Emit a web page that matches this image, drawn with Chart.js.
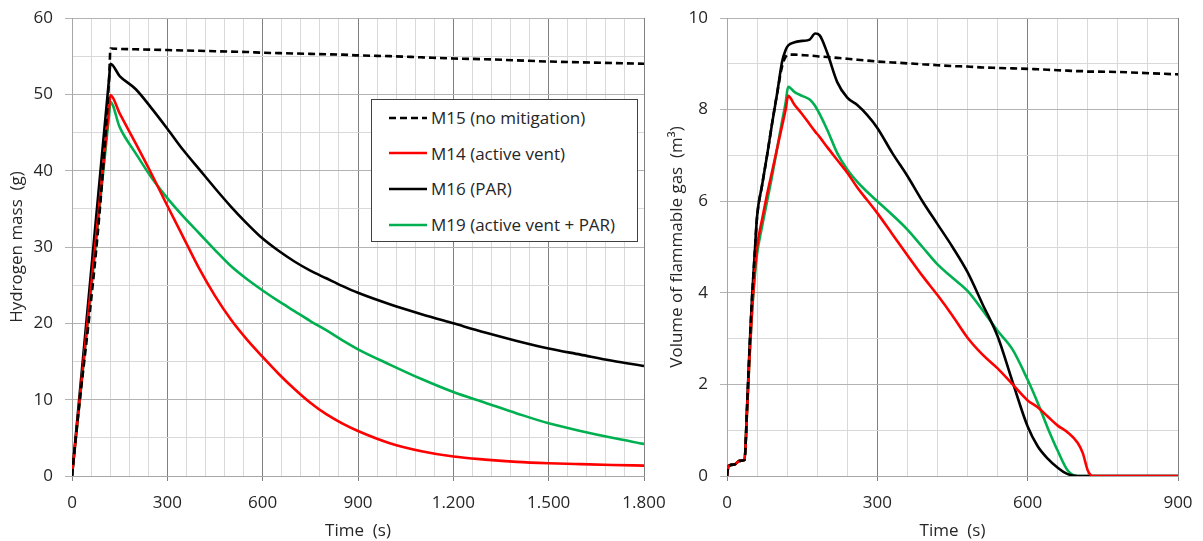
<!DOCTYPE html>
<html>
<head>
<meta charset="utf-8">
<script src="https://cdn.jsdelivr.net/npm/chart.js@4.4.1/dist/chart.umd.min.js"></script>
<style>
  html, body { margin: 0; padding: 0; background: #fff; }
  body { width: 1203px; height: 541px; position: relative; overflow: hidden; font-family: "Open Sans", sans-serif; }
  .panel { position: absolute; top: 0; height: 541px; }
  #leftBox { left: 0; width: 670px; }
  #rightBox { left: 660px; width: 543px; }
  #legend {
    position: absolute; left: 371px; top: 99px; width: 267px; height: 143px;
    border: 1px solid #404040; background: #fff; box-sizing: border-box;
  }
  .entry { height: 35.6px; display: flex; align-items: center; font-size: 17px; color: #262626; white-space: nowrap; }
  .entry svg { margin-left: 17px; margin-right: 4px; }
</style>
</head>
<body>
<div id="leftBox" class="panel"><canvas id="left"></canvas></div>
<div id="rightBox" class="panel"><canvas id="right"></canvas></div>
<div id="legend"></div>
<script>
// Left panel: hydrogen mass (g) vs time (s)
const tLeft = [0, 117, 121, 150, 200, 250, 300, 350, 400, 450, 500, 550, 600, 650, 700, 750, 800, 850, 900, 1000, 1100, 1200, 1300, 1400, 1500, 1600, 1700, 1800];
const m15Left = [0, 52.2, 56.0, 55.95, 55.9, 55.85, 55.8, 55.75, 55.7, 55.65, 55.6, 55.55, 55.45, 55.4, 55.35, 55.3, 55.25, 55.2, 55.1, 55.0, 54.85, 54.7, 54.6, 54.45, 54.3, 54.2, 54.1, 54.0];
const m14Left = [0, 48.3, 49.9, 47.5, 43.6, 39.6, 35.4, 31.3, 27.2, 23.6, 20.5, 17.9, 15.6, 13.4, 11.4, 9.6, 8.1, 6.9, 5.9, 4.3, 3.25, 2.55, 2.15, 1.85, 1.67, 1.55, 1.45, 1.36];
const m16Left = [0, 52.2, 54.0, 52.4, 50.7, 48.2, 45.5, 42.7, 40.2, 37.7, 35.3, 33.1, 31.1, 29.5, 28.1, 26.9, 25.9, 24.9, 24.0, 22.5, 21.2, 20.0, 18.8, 17.7, 16.7, 15.9, 15.1, 14.4];
const m19Left = [0, 47.4, 49.0, 45.7, 42.3, 39.1, 36.4, 34.0, 31.8, 29.6, 27.5, 25.8, 24.3, 22.9, 21.6, 20.3, 19.1, 17.8, 16.6, 14.6, 12.7, 11.0, 9.6, 8.2, 6.9, 5.9, 5.0, 4.2];

// Right panel: volume of flammable gas (m3) vs time (s)
const tRight = [0, 3, 15, 25, 35, 40, 45, 50, 55, 60, 70, 80, 90, 100, 110, 117, 122, 135, 150, 165, 176, 185, 200, 220, 240, 260, 280, 300, 330, 360, 390, 420, 450, 480, 510, 540, 570, 600, 620, 640, 660, 680, 700, 710, 720, 730, 900];
const m15Right = [0, 0.22, 0.25, 0.33, 0.35, 1.5, 2.8, 3.9, 4.8, 5.65, 6.35, 7.0, 7.7, 8.35, 8.95, 9.15, 9.2, 9.2, 9.19, 9.18, 9.17, 9.16, 9.15, 9.13, 9.11, 9.09, 9.07, 9.05, 9.03, 9.01, 8.99, 8.97, 8.95, 8.94, 8.92, 8.91, 8.9, 8.89, 8.88, 8.87, 8.86, 8.85, 8.84, 8.84, 8.83, 8.83, 8.77];
const m14Right = [0, 0.22, 0.25, 0.33, 0.35, 1.4, 2.6, 3.6, 4.4, 5.0, 5.6, 6.15, 6.65, 7.15, 7.65, 8.0, 8.3, 8.1, 7.9, 7.68, 7.52, 7.4, 7.18, 6.9, 6.62, 6.3, 6.02, 5.74, 5.28, 4.82, 4.37, 3.95, 3.5, 3.02, 2.65, 2.35, 2.0, 1.65, 1.5, 1.3, 1.1, 0.95, 0.72, 0.5, 0.12, 0, 0];
const m16Right = [0, 0.22, 0.25, 0.33, 0.35, 1.5, 2.8, 3.9, 4.8, 5.67, 6.35, 7.0, 7.7, 8.35, 9.05, 9.3, 9.4, 9.47, 9.5, 9.53, 9.66, 9.62, 9.24, 8.6, 8.26, 8.1, 7.88, 7.6, 7.05, 6.55, 6.0, 5.5, 5.0, 4.45, 3.75, 3.05, 2.05, 1.08, 0.65, 0.38, 0.18, 0.04, 0, 0, 0, 0, 0];
const m19Right = [0, 0.22, 0.25, 0.33, 0.35, 1.4, 2.6, 3.6, 4.3, 4.85, 5.45, 6.0, 6.55, 7.15, 7.75, 8.15, 8.5, 8.38, 8.3, 8.22, 8.08, 7.9, 7.56, 7.05, 6.69, 6.42, 6.2, 6.0, 5.7, 5.38, 5.0, 4.62, 4.33, 4.04, 3.62, 3.17, 2.76, 2.1, 1.6, 1.05, 0.55, 0.12, 0, 0, 0, 0, 0];

const seriesNames = ["M15 (no mitigation)", "M14 (active vent)", "M16 (PAR)", "M19 (active vent + PAR)"];
const seriesColors = ["#000000", "#ff0000", "#000000", "#00b050"];
const seriesDash = [[7, 4], [], [], []];

const FONT = "'Open Sans', sans-serif";
const GRID = { minor: "#d9d9d9", majorY: "#b3b3b3", majorX: "#808080", axis: "#a6a6a6", text: "#262626" };

// 1200 -> "1.200"
function fmtThousands(v) {
  return String(v).replace(/\B(?=(\d{3})+(?!\d))/g, ".");
}

function zip(t, v) {
  return t.map((x, i) => ({ x, y: v[i] }));
}

// Pin the axis box size and drop the label overhang padding, so the
// plot area is set by layout.padding alone.
function pinBox(size, isX) {
  return (s) => {
    if (isX) s.height = size; else s.width = size;
    s.paddingLeft = s.paddingRight = s.paddingTop = s.paddingBottom = 0;
  };
}

function buildDatasets(t, lists) {
  return lists.map((vals, i) => ({
    label: seriesNames[i],
    data: zip(t, vals),
    borderColor: seriesColors[i],
    borderDash: seriesDash[i],
    borderWidth: 2.6,
    pointRadius: 0,
    cubicInterpolationMode: "monotone",
    fill: false,
  }));
}

function makeChart(id, opts) {
  const { t, lists, xMax, yMax, yStep, yMajor, yTitle, yWidth, padRight } = opts;
  return new Chart(document.getElementById(id), {
    type: "line",
    data: { datasets: buildDatasets(t, lists) },
    options: {
      responsive: true,
      maintainAspectRatio: false,
      animation: false,
      layout: { padding: { top: 18, right: padRight, left: 0, bottom: 0 } },
      plugins: { legend: { display: false }, tooltip: { enabled: false } },
      scales: {
        x: {
          type: "linear",
          min: 0,
          max: xMax,
          border: { color: GRID.axis, width: 1 },
          grid: {
            color: (c) => (c.tick.value % 300 === 0 ? GRID.majorX : GRID.minor),
            tickColor: (c) => (c.tick.value % 300 === 0 ? GRID.majorX : "rgba(0,0,0,0)"),
            tickLength: 5,
          },
          ticks: {
            stepSize: 60,
            autoSkip: false,
            maxRotation: 0,
            padding: 12,
            color: GRID.text,
            font: { family: FONT, size: 17 },
            callback: (v) => (v % 300 === 0 ? fmtThousands(v) : ""),
          },
          title: {
            display: true,
            text: "Time  (s)",
            color: GRID.text,
            font: { family: FONT, size: 17 },
            padding: { top: 0, bottom: 0 },
          },
          afterFit: pinBox(65, true),
        },
        y: {
          min: 0,
          max: yMax,
          border: { color: GRID.axis, width: 1 },
          grid: {
            color: (c) => (c.tick.value % yMajor === 0 ? GRID.majorY : GRID.minor),
            tickColor: (c) => (c.tick.value % yMajor === 0 ? GRID.majorY : "rgba(0,0,0,0)"),
            tickLength: 7,
          },
          ticks: {
            stepSize: yStep,
            autoSkip: false,
            padding: 12,
            color: GRID.text,
            font: { family: FONT, size: 17 },
            callback: (v) => (v % yMajor === 0 ? String(v) : ""),
          },
          title: {
            display: true,
            text: yTitle,
            color: GRID.text,
            font: { family: FONT, size: 17 },
            padding: { top: 7, bottom: 0 },
          },
          afterFit: pinBox(yWidth, false),
        },
      },
    },
  });
}

const leftChart = makeChart("left", {
  t: tLeft,
  lists: [m15Left, m14Left, m16Left, m19Left],
  xMax: 1800, yMax: 60, yStep: 5, yMajor: 10,
  yTitle: "Hydrogen mass  (g)", yWidth: 72, padRight: 26,
});

makeChart("right", {
  t: tRight,
  lists: [m15Right, m14Right, m16Right, m19Right],
  xMax: 900, yMax: 10, yStep: 1, yMajor: 2,
  yTitle: "Volume of flammable gas  (m³)", yWidth: 67, padRight: 25,
});

// Legend box inside the left plot, built from the chart's datasets
const legend = document.getElementById("legend");
leftChart.data.datasets.forEach((ds) => {
  const row = document.createElement("div");
  row.className = "entry";
  const dash = ds.borderDash.length ? ` stroke-dasharray="${ds.borderDash.join(" ")}"` : "";
  row.innerHTML = `<svg width="38" height="6"><line x1="0" y1="3" x2="38" y2="3" stroke="${ds.borderColor}" stroke-width="2.5"${dash}/></svg>`;
  const span = document.createElement("span");
  span.textContent = ds.label;
  row.appendChild(span);
  legend.appendChild(row);
});
</script>
</body>
</html>
